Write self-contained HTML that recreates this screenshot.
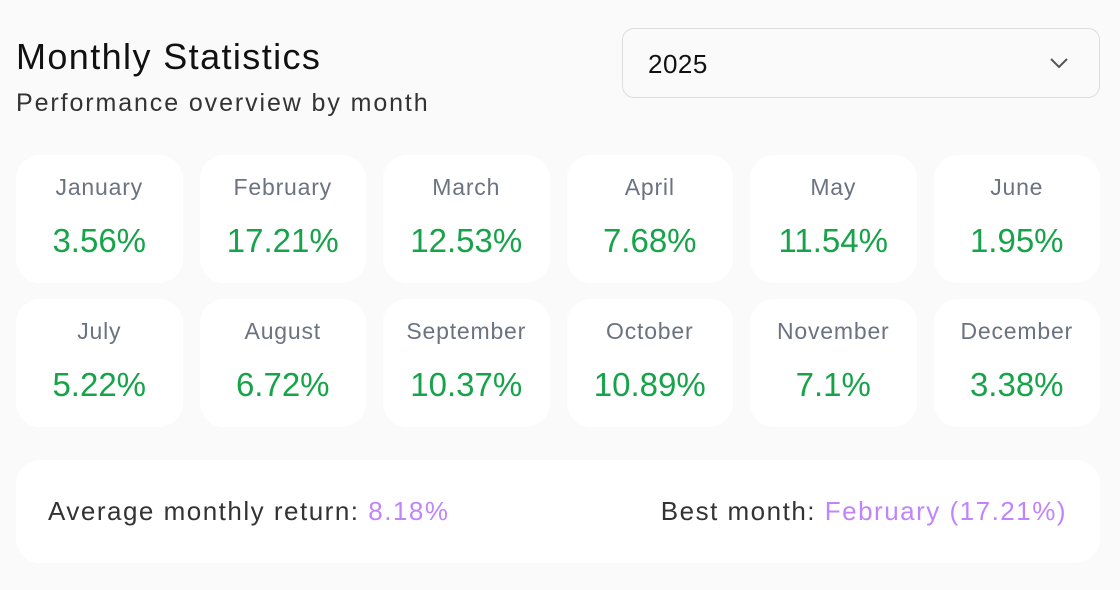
<!DOCTYPE html>
<html><head><meta charset="utf-8"><style>
*{box-sizing:border-box;margin:0;padding:0}
body{width:1120px;height:590px;background:#fafafa;font-family:"Liberation Sans",sans-serif;position:relative;overflow:hidden}
h1{position:absolute;left:16px;top:36px;font-size:36px;font-weight:500;color:#111;letter-spacing:1.4px}
.sub{position:absolute;left:16px;top:89px;font-size:25px;color:#333;letter-spacing:1.9px}
.sel{position:absolute;left:622px;top:28px;width:478px;height:70px;border:1.5px solid #ddd;border-radius:12px;background:#fafafa}
.sel span{position:absolute;left:25px;top:20px;font-size:26px;color:#111;letter-spacing:0.5px}
.sel svg{position:absolute;right:30px;top:28px}
.grid{position:absolute;left:16px;top:155px;width:1084px;display:grid;grid-template-columns:repeat(6,1fr);column-gap:17px;row-gap:16px}
.c{height:128px;background:#fff;border-radius:24px;text-align:center}
.m{font-size:23px;color:#6b7280;padding-top:19px;letter-spacing:0.8px}
.v{font-size:33px;color:#16a34a;margin-top:21px;font-weight:500}
.b{position:absolute;left:16px;top:460px;width:1084px;height:103px;background:#fff;border-radius:24px;font-size:26px;color:#333;letter-spacing:1.5px}
.b .l{position:absolute;left:32px;top:36px}
.b .r{position:absolute;right:33px;top:36px}
.p{color:#c084fc}
</style></head><body>
<h1>Monthly Statistics</h1>
<div class="sub">Performance overview by month</div>
<div class="sel"><span>2025</span><svg width="20" height="12" viewBox="0 0 20 12"><path d="M2 2l8 8 8-8" fill="none" stroke="#555" stroke-width="2"/></svg></div>
<div class="grid">
<div class="c"><div class="m">January</div><div class="v">3.56%</div></div>
<div class="c"><div class="m">February</div><div class="v">17.21%</div></div>
<div class="c"><div class="m">March</div><div class="v">12.53%</div></div>
<div class="c"><div class="m">April</div><div class="v">7.68%</div></div>
<div class="c"><div class="m">May</div><div class="v">11.54%</div></div>
<div class="c"><div class="m">June</div><div class="v">1.95%</div></div>
<div class="c"><div class="m">July</div><div class="v">5.22%</div></div>
<div class="c"><div class="m">August</div><div class="v">6.72%</div></div>
<div class="c"><div class="m">September</div><div class="v">10.37%</div></div>
<div class="c"><div class="m">October</div><div class="v">10.89%</div></div>
<div class="c"><div class="m">November</div><div class="v">7.1%</div></div>
<div class="c"><div class="m">December</div><div class="v">3.38%</div></div>
</div>
<div class="b"><div class="l">Average monthly return: <span class="p">8.18%</span></div><div class="r">Best month: <span class="p">February (17.21%)</span></div></div>
</body></html>
